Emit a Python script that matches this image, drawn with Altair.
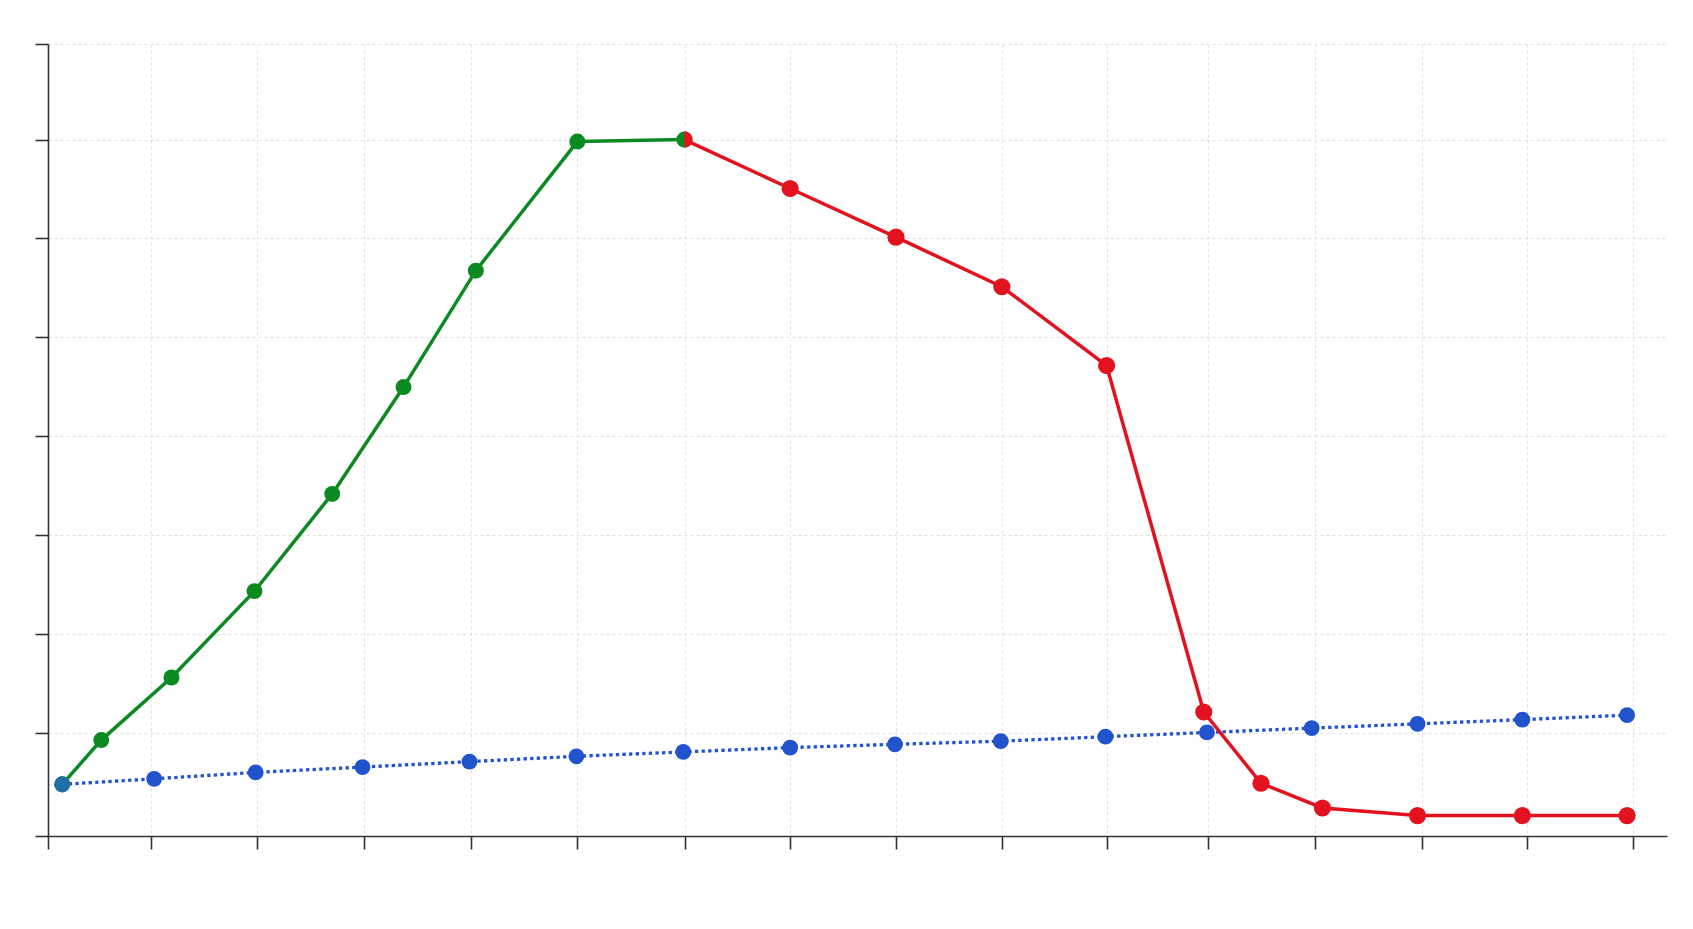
import altair as alt
import pandas as pd

# ---- data (axis units: roughly one unit per tick) ----
green_x = [0.135, 0.504, 1.169, 1.955, 2.691, 3.366, 4.051, 5.012, 6.025]
green_y = [0.477, 0.925, 1.558, 2.432, 3.415, 4.496, 5.674, 6.98, 7.0]

blue_x = [0.135, 1.005, 1.966, 2.978, 3.991, 5.003, 6.015, 7.027, 8.019, 9.021,
          10.012, 10.973, 11.965, 12.967, 13.959, 14.951]
blue_y = [0.477, 0.533, 0.598, 0.652, 0.707, 0.761, 0.805, 0.849, 0.882, 0.914,
          0.959, 1.002, 1.046, 1.089, 1.132, 1.177]

red_x = [6.025, 7.027, 8.029, 9.031, 10.023, 10.943, 11.485, 12.067, 12.967, 13.959, 14.951]
red_y = [7.0, 6.505, 6.013, 5.511, 4.714, 1.209, 0.488, 0.238, 0.161, 0.161, 0.161]

# axis extents and tick values
x_domain = [0, 15.329]
y_domain = [-0.0455, 7.967]
x_ticks = [0, 0.975, 1.979, 2.990, 4.003, 5.012, 6.029, 7.027, 8.029, 9.031,
           10.023, 10.984, 11.996, 13.006, 14.006, 15.007]
y_ticks = [y_domain[0], 1, 2, 3, 4, 5, 6, 7, y_domain[1]]

GREEN = "#0b8a22"
RED = "#e3121f"
BLUE = "#2153cc"
START = "#1f6fa6"

green = pd.DataFrame({"x": green_x, "y": green_y})
blue = pd.DataFrame({"x": blue_x, "y": blue_y})
red = pd.DataFrame({"x": red_x, "y": red_y})

axis_common = dict(
    labels=False,
    grid=True,
    gridDash=[3, 3],
    gridColor="#e0e0e0",
    gridWidth=1,
    domainColor="#333333",
    domainWidth=1.6,
    tickColor="#333333",
    tickWidth=1.6,
    tickSize=13,
)

X = alt.X("x:Q", title=None,
          scale=alt.Scale(domain=x_domain, nice=False, zero=False),
          axis=alt.Axis(values=x_ticks, **axis_common))
Y = alt.Y("y:Q", title=None,
          scale=alt.Scale(domain=y_domain, nice=False, zero=False),
          axis=alt.Axis(values=y_ticks, **axis_common))


def line(df, color, dash=None):
    kw = dict(color=color, strokeWidth=3.5)
    if dash:
        kw["strokeDash"] = dash
        kw["strokeWidth"] = 3.3
    return alt.Chart(df).mark_line(**kw).encode(x=X, y=Y)


def pts(df, color, size, shape="circle"):
    return alt.Chart(df).mark_point(filled=True, opacity=1, color=color,
                                    size=size, shape=shape).encode(x=X, y=Y)


half_right = "M0,-1A1,1,0,0,1,0,1Z"

chart = alt.layer(
    line(green, GREEN),
    line(blue, BLUE, [3.3, 3.3]),
    line(red, RED),
    pts(green, GREEN, 255),
    pts(blue.iloc[1:], BLUE, 250),
    pts(red.iloc[1:], RED, 295),
    pts(red.iloc[:1], RED, 270, half_right),
    pts(blue.iloc[:1], START, 260),
).properties(
    width=1619,
    height=792,
    padding={"left": 40, "top": 36, "right": 10, "bottom": 40},
    autosize=alt.AutoSizeParams(type="none"),
    background="white",
).configure_view(strokeWidth=0)

chart.save("out.html", embed_options={"renderer": "svg", "actions": False})
